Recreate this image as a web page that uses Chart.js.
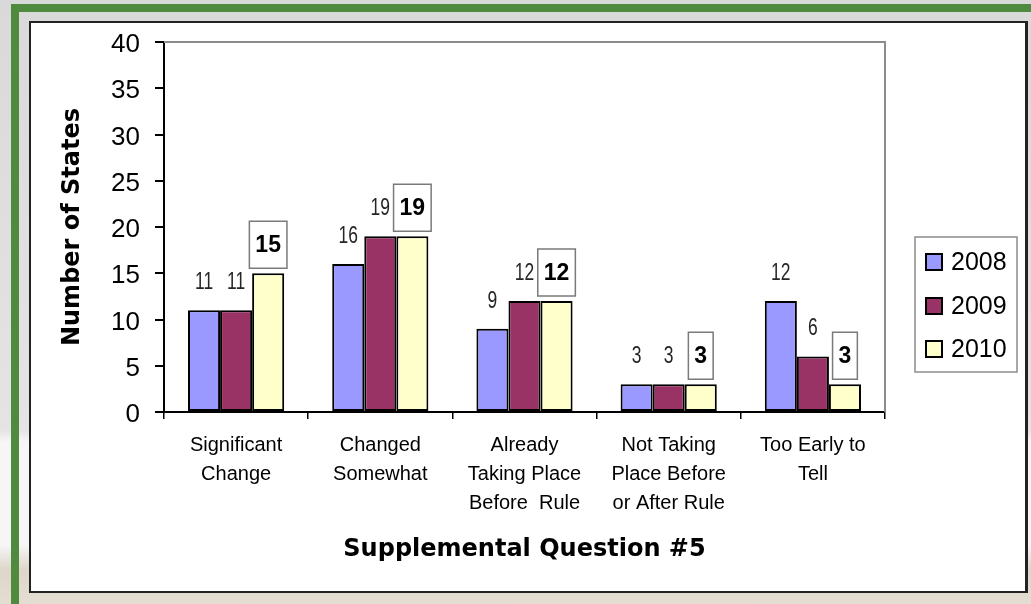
<!DOCTYPE html>
<html>
<head>
<meta charset="utf-8">
<script src="https://cdn.jsdelivr.net/npm/chart.js@4.4.1/dist/chart.umd.min.js"></script>
<style>
  html, body { margin: 0; padding: 0; }
  body { width: 1031px; height: 604px; position: relative; overflow: hidden;
         background: linear-gradient(180deg, #d9d9d9 0px, #e4e4e4 430px, #f6f6f6 442px, #f6f6f6 545px, #ddd6c9 570px, #e4ddd1 604px); }
  .g { position: absolute; background: #4f8a3f; }
  .box { position: absolute; left: 29px; top: 21px; width: 994px; height: 568px;
         background: #fff; border: 2px solid #222; border-right-width: 3px; }
  canvas { position: absolute; left: 0; top: 0; }
</style>
</head>
<body>
<div class="g" style="left:11px;top:4px;width:1020px;height:8px"></div>
<div class="g" style="left:11px;top:4px;width:8px;height:600px"></div>
<div class="box"></div>
<canvas id="c" width="1031" height="604"></canvas>
<script>
// ---- data ----
const categories = [
  ["Significant", "Change"],
  ["Changed", "Somewhat"],
  ["Already", "Taking Place", "Before  Rule"],
  ["Not Taking", "Place Before", "or After Rule"],
  ["Too Early to", "Tell"]
];
const seriesNames = ["2008", "2009", "2010"];
const values2008 = [11, 16, 9, 3, 12];
const values2009 = [11, 19, 12, 3, 6];
const values2010 = [15, 19, 12, 3, 3];
const yMin = 0, yMax = 40, yStep = 5;
const xTitle = "Supplemental Question #5";
const yTitle = "Number of States";

// ---- styles ----
const seriesColors = ["#9999ff", "#993366", "#ffffcc"];
const SANS = "'Liberation Sans', Arial, sans-serif";
const WIDEBOLD = "'DejaVu Sans', Verdana, sans-serif";

Chart.defaults.font.family = SANS;
Chart.defaults.color = "#000";

const plotFrame = {
  id: "plotFrame",
  beforeDatasetsDraw(chart) {
    const { ctx, chartArea: a } = chart;
    ctx.save();
    ctx.strokeStyle = "#8c8c8c";
    ctx.lineWidth = 2;
    ctx.beginPath();
    ctx.moveTo(a.left, a.top);
    ctx.lineTo(a.right, a.top);
    ctx.lineTo(a.right, a.bottom);
    ctx.stroke();
    ctx.restore();
  }
};

const valueLabels = {
  id: "valueLabels",
  afterDatasetsDraw(chart) {
    const ctx = chart.ctx;
    ctx.save();
    ctx.textAlign = "center";
    ctx.textBaseline = "middle";
    chart.data.datasets.forEach((ds, di) => {
      const meta = chart.getDatasetMeta(di);
      meta.data.forEach((bar, i) => {
        const txt = String(ds.data[i]);
        const cx = bar.x, cy = bar.y - 28.5;
        if (di === 2) {
          ctx.font = "bold 23px " + SANS;
          const w = ctx.measureText(txt).width + 12;
          const h = 47;
          ctx.fillStyle = "#fff";
          ctx.fillRect(cx - w / 2, cy - h / 2, w, h);
          ctx.strokeStyle = "#7a7a7a";
          ctx.lineWidth = 1.5;
          ctx.strokeRect(cx - w / 2, cy - h / 2, w, h);
          ctx.fillStyle = "#000";
          ctx.fillText(txt, cx, cy + 1);
        } else {
          ctx.save();
          ctx.translate(cx, cy + 1);
          ctx.scale(0.76, 1);
          ctx.font = "23px " + SANS;
          ctx.fillStyle = "#262626";
          ctx.fillText(txt, 0, 0);
          ctx.restore();
        }
      });
    });
    ctx.restore();
  }
};

const boxedLegend = {
  id: "boxedLegend",
  afterDraw(chart) {
    const ctx = chart.ctx;
    const x0 = 915, y0 = 237, w = 102, h = 135;
    ctx.save();
    ctx.strokeStyle = "#8c8c8c";
    ctx.lineWidth = 1.5;
    ctx.strokeRect(x0, y0, w, h);
    const ys = [262, 306, 349];
    chart.data.datasets.forEach((ds, i) => {
      const y = ys[i];
      ctx.fillStyle = ds.backgroundColor;
      ctx.fillRect(926, y - 8, 16, 16);
      ctx.strokeStyle = "#000";
      ctx.lineWidth = 2;
      ctx.strokeRect(926, y - 8, 16, 16);
      ctx.fillStyle = "#000";
      ctx.font = "25px " + SANS;
      ctx.textAlign = "left";
      ctx.textBaseline = "middle";
      ctx.fillText(ds.label, 951, y + 1);
    });
    ctx.restore();
  }
};

const datasets = [values2008, values2009, values2010].map((vals, i) => ({
  label: seriesNames[i],
  data: vals,
  backgroundColor: seriesColors[i],
  borderColor: "#000",
  borderWidth: 2,
  borderSkipped: false,
  barPercentage: 1.0,
  categoryPercentage: 0.667
}));

new Chart(document.getElementById("c"), {
  type: "bar",
  data: { labels: categories, datasets },
  plugins: [plotFrame, valueLabels, boxedLegend],
  options: {
    responsive: false,
    animation: false,
    devicePixelRatio: 1,
    events: [],
    layout: { padding: { left: 30, right: 146, top: 42, bottom: 20 } },
    plugins: { legend: { display: false }, tooltip: { enabled: false } },
    scales: {
      x: {
        offset: true,
        grid: { display: true, offset: true, drawOnChartArea: false, drawTicks: true, tickLength: 7, color: "#000", lineWidth: 1.5 },
        border: { display: true, color: "#000", width: 2 },
        ticks: { font: { family: SANS, size: 20, lineHeight: 1.45 }, color: "#000", padding: 12, maxRotation: 0, autoSkip: false },
        title: { display: true, text: xTitle, color: "#000", font: { family: WIDEBOLD, size: 24, weight: "bold" }, padding: { top: 0, bottom: 20 } },
        afterFit(s) { s.height = 172; }
      },
      y: {
        min: yMin, max: yMax,
        grid: { display: true, drawOnChartArea: false, drawTicks: true, tickLength: 9, color: "#000", lineWidth: 2 },
        border: { display: true, color: "#000", width: 2 },
        ticks: { stepSize: yStep, font: { family: SANS, size: 26 }, color: "#000", padding: 15, labelOffset: 3 },
        title: { display: true, text: yTitle, color: "#000", font: { family: WIDEBOLD, size: 24, weight: "bold" }, padding: { top: 28, bottom: 0 } },
        afterFit(s) { s.width = 134; }
      }
    }
  }
});
</script>
</body>
</html>
